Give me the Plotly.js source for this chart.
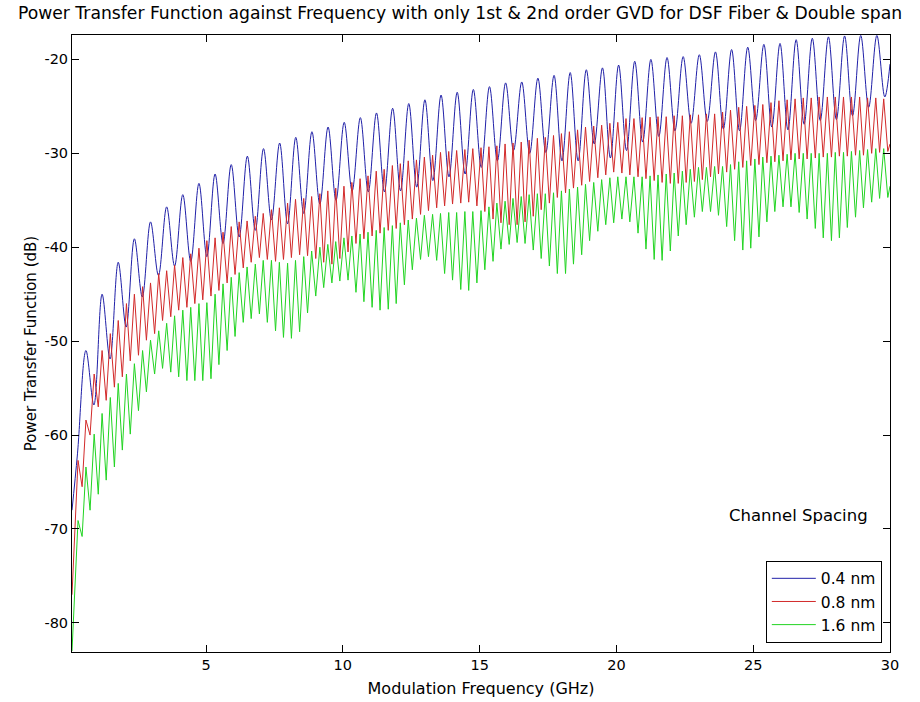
<!DOCTYPE html>
<html>
<head>
<meta charset="utf-8">
<script src="https://cdn.plot.ly/plotly-3.0.1.min.js"></script>
<style>html,body{margin:0;padding:0;background:#fff;}#chart{width:920px;height:702px;}</style>
</head>
<body>
<div id="chart"></div>
<script>
// ---------- data ----------
// Series names
const seriesNames = ["0.4 nm", "0.8 nm", "1.6 nm"];

// 0.4 nm (blue): local maxima / minima (GHz, dB)
const blueStartFreq = [0.10, 0.30];
const blueStartDb = [-68.0, -62.0];
const bluePeakFreq = [0.61,1.20,1.79,2.38,2.97,3.56,4.15,4.74,5.33,5.92,6.51,7.10,7.69,8.28,8.87,9.46,10.05,10.64,11.23,11.82,12.41,13.00,13.59,14.18,14.77,15.36,15.95,16.54,17.13,17.72,18.31,18.90,19.49,20.08,20.67,21.26,21.85,22.44,23.03,23.62,24.21,24.80,25.39,25.98,26.57,27.16,27.75,28.34,28.93,29.52];
const bluePeakDb = [-51.0,-45.0,-41.6,-39.1,-37.3,-35.7,-34.4,-33.2,-32.2,-31.2,-30.3,-29.5,-28.9,-28.3,-27.7,-27.2,-26.7,-26.2,-25.7,-25.2,-24.7,-24.3,-23.8,-23.5,-23.2,-22.9,-22.5,-22.4,-22.0,-21.7,-21.4,-21.1,-20.9,-20.6,-20.2,-20.0,-19.8,-19.7,-19.5,-19.2,-18.95,-18.7,-18.4,-18.3,-17.9,-17.75,-17.6,-17.5,-17.45,-17.45];
const blueTroughFreq = [0.90,1.49,2.08,2.67,3.26,3.85,4.44,5.03,5.62,6.21,6.80,7.39,7.98,8.57,9.16,9.75,10.34,10.93,11.52,12.11,12.70,13.29,13.88,14.47,15.06,15.65,16.24,16.83,17.42,18.01,18.60,19.19,19.78,20.37,20.96,21.55,22.14,22.73,23.32,23.91,24.50,25.09,25.68,26.27,26.86,27.45,28.04,28.63,29.22,29.81];
const blueTroughDb = [-56.8,-51.9,-48.5,-45.3,-43.0,-42.0,-41.5,-41.0,-39.6,-38.9,-38.2,-37.1,-37.5,-36.4,-35.4,-35.0,-34.0,-34.1,-34.1,-34.0,-33.6,-32.9,-32.5,-32.2,-31.5,-30.8,-29.7,-30.0,-29.9,-30.8,-30.8,-29.0,-30.5,-29.7,-28.8,-28.2,-27.6,-26.8,-26.6,-27.4,-27.6,-26.5,-27.2,-27.5,-26.9,-26.5,-26.4,-26.0,-25.1,-24.0];
const blueEndFreq = [30.0];
const blueEndDb = [-20.5];

// 0.8 nm and 1.6 nm share the faster ripple positions (GHz)
const fineStartFreq = [0.10];
const finePeakFreq = [0.32,0.61,0.91,1.20,1.50,1.79,2.09,2.38,2.68,2.97,3.27,3.56,3.85,4.15,4.44,4.74,5.03,5.33,5.62,5.92,6.21,6.50,6.80,7.09,7.39,7.68,7.98,8.27,8.57,8.86,9.16,9.45,9.74,10.04,10.33,10.63,10.92,11.22,11.51,11.81,12.10,12.39,12.69,12.98,13.28,13.57,13.87,14.16,14.46,14.75,15.05,15.34,15.63,15.93,16.22,16.52,16.81,17.11,17.40,17.70,17.99,18.28,18.58,18.87,19.17,19.46,19.76,20.05,20.35,20.64,20.94,21.23,21.52,21.82,22.11,22.41,22.70,23.00,23.29,23.59,23.88,24.17,24.47,24.76,25.06,25.35,25.65,25.94,26.24,26.53,26.83,27.12,27.41,27.71,28.00,28.30,28.59,28.89,29.18,29.48,29.77];
const fineTroughFreq = [0.47,0.76,1.06,1.35,1.65,1.94,2.23,2.53,2.82,3.12,3.41,3.71,4.00,4.30,4.59,4.88,5.18,5.47,5.77,6.06,6.36,6.65,6.95,7.24,7.54,7.83,8.12,8.42,8.71,9.01,9.30,9.60,9.89,10.19,10.48,10.77,11.07,11.36,11.66,11.95,12.25,12.54,12.84,13.13,13.43,13.72,14.01,14.31,14.60,14.90,15.19,15.49,15.78,16.08,16.37,16.66,16.96,17.25,17.55,17.84,18.14,18.43,18.73,19.02,19.32,19.61,19.90,20.20,20.49,20.79,21.08,21.38,21.67,21.97,22.26,22.55,22.85,23.14,23.44,23.73,24.03,24.32,24.62,24.91,25.21,25.50,25.79,26.09,26.38,26.68,26.97,27.27,27.56,27.86,28.15,28.44,28.74,29.03,29.33,29.62,29.92];
const fineEndFreq = [30.0];

// 0.8 nm (red)
const redStartDb = [-77.0];
const redPeakDb = [-62.7,-58.4,-53.5,-51.0,-49.2,-47.8,-46.0,-45.0,-44.2,-43.8,
-42.8,-42.5,-41.9,-41.1,-40.7,-40.1,-39.3,-39.0,-38.4,-37.8,
-37.3,-37.2,-36.7,-36.4,-36.0,-35.8,-35.3,-34.9,-34.8,-34.6,
-34.3,-34.0,-33.7,-33.5,-33.1,-32.7,-32.4,-31.9,-31.7,-31.3,
-31.1,-30.8,-30.7,-30.4,-30.2,-29.9,-29.8,-29.7,-29.6,-29.5,
-29.4,-29.3,-29.2,-29.0,-28.9,-28.8,-28.6,-28.4,-28.3,-28.1,
-27.9,-27.7,-27.5,-27.2,-27.1,-27.0,-26.8,-26.7,-26.3,-26.3,
-26.2,-26.15,-26.1,-26.1,-26.0,-26.0,-25.9,-25.9,-25.8,-25.8,
-25.6,-25.4,-25.1,-25.0,-24.9,-24.8,-24.6,-24.4,-24.3,-24.2,
-24.1,-24.1,-24.0,-24.0,-24.0,-24.0,-24.0,-24.0,-24.1,-24.1,
-24.2];
const redTroughDb = [-65.5,-60.0,-57.0,-56.3,-54.9,-53.8,-52.1,-51.5,-49.9,-49.2,
-47.8,-47.4,-46.7,-46.4,-46.0,-45.6,-45.2,-44.6,-43.8,-42.9,
-42.2,-41.6,-41.1,-41.3,-41.5,-41.3,-41.1,-40.8,-40.9,-41.2,
-41.6,-41.8,-41.2,-40.5,-39.6,-39.1,-38.8,-38.5,-38.2,-38.0,
-37.6,-37.0,-36.5,-36.1,-35.8,-35.6,-35.4,-35.3,-35.2,-35.6,
-36.2,-37.0,-37.4,-37.6,-37.6,-37.3,-36.7,-36.0,-35.3,-34.7,
-34.2,-33.7,-33.4,-33.0,-32.6,-32.3,-32.0,-32.1,-32.3,-32.5,
-32.7,-32.9,-33.1,-33.2,-33.2,-33.1,-33.0,-32.8,-32.5,-32.2,
-32.0,-31.7,-31.5,-31.3,-31.2,-31.0,-30.9,-30.8,-30.7,-30.6,
-30.6,-30.5,-30.4,-30.4,-30.3,-30.3,-30.2,-30.2,-30.0,-29.9,
-29.8];
const redEndDb = [-29.0];

// 1.6 nm (green)
const greenStartDb = [-83.0];
const greenPeakDb = [-69.1,-63.4,-59.9,-57.7,-56.0,-54.5,-53.5,-52.4,-51.0,-49.9,
-48.9,-48.1,-47.3,-46.7,-46.4,-46.0,-45.9,-45.0,-43.9,-43.2,
-42.7,-42.1,-41.8,-41.4,-41.4,-41.6,-41.7,-41.4,-41.0,-40.4,
-40.0,-39.7,-39.4,-39.0,-38.8,-38.6,-38.4,-38.2,-37.9,-37.7,
-37.4,-37.1,-36.9,-36.6,-36.5,-36.4,-36.3,-36.3,-36.2,-36.2,
-36.1,-35.7,-35.3,-35.1,-34.8,-34.6,-34.4,-34.3,-34.3,-34.2,
-34.0,-33.8,-33.6,-33.3,-33.1,-32.8,-32.6,-32.5,-32.5,-32.5,
-32.5,-32.4,-32.3,-32.2,-32.1,-31.9,-31.7,-31.5,-31.5,-31.4,
-31.4,-31.2,-30.9,-30.8,-30.6,-30.4,-30.3,-30.2,-30.1,-30.0,
-30.0,-30.0,-30.0,-30.0,-29.9,-29.9,-29.8,-29.7,-29.6,-29.5,
-29.5];
const greenTroughDb = [-70.8,-68.0,-66.3,-64.8,-63.4,-61.6,-59.9,-57.4,-55.4,-53.5,
-52.9,-53.3,-53.8,-54.2,-54.2,-54.2,-54.0,-52.5,-51.0,-49.5,
-48.0,-47.6,-47.1,-48.0,-48.9,-49.6,-49.7,-49.0,-47.0,-45.2,
-44.3,-43.8,-43.6,-43.5,-44.8,-45.8,-46.4,-46.7,-46.6,-46.0,
-44.0,-42.4,-41.3,-41.0,-41.4,-42.8,-43.5,-44.5,-44.6,-43.8,
-42.4,-41.5,-40.2,-39.7,-39.5,-39.6,-40.3,-41.2,-42.0,-42.8,
-42.8,-41.8,-40.8,-39.3,-38.3,-37.6,-37.4,-37.0,-37.3,-38.5,
-40.2,-41.3,-41.4,-40.4,-38.8,-37.6,-36.8,-36.2,-36.2,-36.6,
-37.8,-39.3,-40.3,-40.1,-38.9,-37.3,-36.2,-35.7,-35.7,-36.3,
-37.0,-38.0,-39.0,-39.3,-39.0,-37.9,-36.8,-35.8,-35.2,-34.8,
-34.7];
const greenEndDb = [-33.5];

// Axis ticks
const xTickVals = [5, 10, 15, 20, 25, 30];
const yTickVals = [-80, -70, -60, -50, -40, -30, -20];

// ---------- build traces (interleave maxima and minima) ----------
function interleave(sx, sy, px, py, tx, ty, ex, ey) {
  const x = sx.slice(), y = sy.slice();
  for (let i = 0; i < px.length; i++) {
    x.push(px[i]); y.push(py[i]);
    if (i < tx.length) { x.push(tx[i]); y.push(ty[i]); }
  }
  return { x: x.concat(ex), y: y.concat(ey) };
}

const blue = interleave(blueStartFreq, blueStartDb, bluePeakFreq, bluePeakDb, blueTroughFreq, blueTroughDb, blueEndFreq, blueEndDb);
const red = interleave(fineStartFreq, redStartDb, finePeakFreq, redPeakDb, fineTroughFreq, redTroughDb, fineEndFreq, redEndDb);
const green = interleave(fineStartFreq, greenStartDb, finePeakFreq, greenPeakDb, fineTroughFreq, greenTroughDb, fineEndFreq, greenEndDb);

const FONT = "DejaVu Sans, Arial, sans-serif";

const traces = [
  { x: blue.x, y: blue.y, name: seriesNames[0], type: "scatter", mode: "lines",
    line: { color: "#2020a8", width: 1, shape: "spline", smoothing: 1 } },
  { x: red.x, y: red.y, name: seriesNames[1], type: "scatter", mode: "lines",
    line: { color: "#d22a2a", width: 1 } },
  { x: green.x, y: green.y, name: seriesNames[2], type: "scatter", mode: "lines",
    line: { color: "#22d422", width: 1 } }
];

const axisCommon = {
  showline: true, linecolor: "#000", linewidth: 1, mirror: "ticks",
  ticks: "inside", ticklen: 7, tickwidth: 1, tickcolor: "#000",
  showgrid: false, zeroline: false,
  tickfont: { family: FONT, size: 14.5, color: "#000" }
};

const layout = {
  width: 920, height: 702,
  paper_bgcolor: "#fff", plot_bgcolor: "#fff",
  margin: { l: 72, r: 30, t: 35, b: 50 },
  title: {
    text: "Power Transfer Function against Frequency with only 1st &amp; 2nd order GVD for DSF Fiber &amp; Double span",
    font: { family: FONT, size: 17.2, color: "#000" },
    x: 0.5, xanchor: "center", xref: "container",
    y: 1 - 13 / 702, yanchor: "middle", yref: "container"
  },
  xaxis: Object.assign({}, axisCommon, {
    range: [0.1, 30], tickvals: xTickVals, ticktext: xTickVals.map(String),
    title: { text: "Modulation Frequency (GHz)", font: { family: FONT, size: 16, color: "#000" }, standoff: 10 }
  }),
  yaxis: Object.assign({}, axisCommon, {
    range: [-83.1, -17.4], tickvals: yTickVals, ticktext: yTickVals.map(String),
    title: { text: "Power Transfer Function (dB)", font: { family: FONT, size: 15, color: "#000" }, standoff: 4 }
  }),
  showlegend: true,
  legend: {
    x: 0.99, xanchor: "right", y: 0.015, yanchor: "bottom",
    bgcolor: "#fff", bordercolor: "#000", borderwidth: 1,
    font: { family: FONT, size: 15.5, color: "#000" },
    itemwidth: 44, tracegroupgap: 0
  },
  annotations: [{
    text: "Channel Spacing", xref: "paper", yref: "paper",
    x: 0.888, y: (652 - 515) / 617, xanchor: "center", yanchor: "middle",
    showarrow: false, font: { family: FONT, size: 16.5, color: "#000" }
  }]
};

Plotly.newPlot("chart", traces, layout, { staticPlot: true, displayModeBar: false });
</script>
</body>
</html>
